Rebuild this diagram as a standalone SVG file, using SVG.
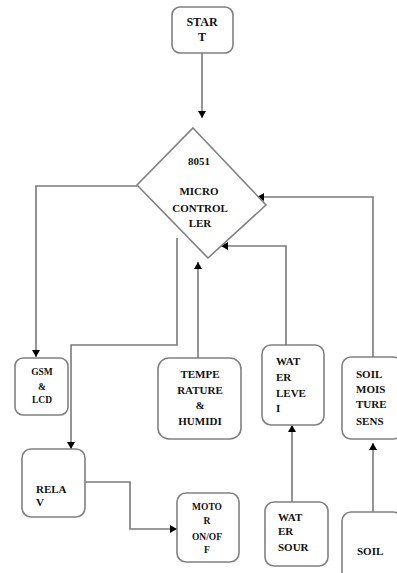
<svg xmlns="http://www.w3.org/2000/svg" width="397" height="573" viewBox="0 0 397 573">
<defs>
<marker id="arr" markerUnits="userSpaceOnUse" markerWidth="8" markerHeight="8" refX="7" refY="4" orient="auto">
<path d="M0,0 L7,4 L0,8 Z" fill="#000"/>
</marker>
<style>
.box{fill:#fff;stroke:#808080;stroke-width:1.6}
.ln{fill:none;stroke:#7a7a7a;stroke-width:1.6;marker-end:url(#arr)}
text{font-family:"Liberation Serif","DejaVu Serif","Times New Roman",serif;font-weight:bold;font-size:11px;fill:#111}
.c{text-anchor:middle}
.s{font-size:9.5px}
</style>
</defs>
<rect width="397" height="573" fill="#fff"/>
<g id="connectors">
<polyline class="ln" points="202,53 202,118"/>
<polyline class="ln" points="137,186 36,186 36,357"/>
<polyline class="ln" points="177,238 177,345 71,345 71,449"/>
<polyline class="ln" points="85,482 130,482 130,529 177,529"/>
<polyline class="ln" points="198,358 198,262"/>
<polyline class="ln" points="286,345 286,246 221,246"/>
<polyline class="ln" points="373,357 373,197 257,197"/>
<polyline class="ln" points="292,502 292,425"/>
<polyline class="ln" points="373,512 373,443"/>
</g>
<g id="start">
<rect class="box" x="172" y="7" width="61" height="46" rx="8"/>
<text class="c" x="202" y="25.5" style="font-size:12px">STAR</text>
<text class="c" x="202" y="41" style="font-size:12px">T</text>
</g>
<g id="controller">
<polygon class="box" points="193,128 266,205 208,258 137,185"/>
<text class="c" x="199" y="165">8051</text>
<text class="c" x="199" y="195">MICRO</text>
<text class="c" x="200" y="212">CONTROL</text>
<text class="c" x="200" y="227">LER</text>
</g>
<g id="gsm">
<rect class="box" x="15" y="358" width="53" height="57" rx="8"/>
<text class="c s" x="42" y="375">GSM</text>
<text class="c s" x="42" y="390">&amp;</text>
<text class="c s" x="42" y="403">LCD</text>
</g>
<g id="relay">
<rect class="box" x="22" y="449" width="63" height="68" rx="9"/>
<text x="36" y="493">RELA</text>
<text x="36" y="506">V</text>
</g>
<g id="motor">
<rect class="box" x="177" y="493" width="62" height="69" rx="9"/>
<text class="c s" x="207" y="510">MOTO</text>
<text class="c s" x="207" y="524">R</text>
<text class="c s" x="207" y="540">ON/OF</text>
<text class="c s" x="207" y="553">F</text>
</g>
<g id="temperature">
<rect class="box" x="158" y="358" width="83" height="81" rx="11"/>
<text class="c" x="200" y="378">TEMPE</text>
<text class="c" x="200" y="394">RATURE</text>
<text class="c" x="200" y="409">&amp;</text>
<text class="c" x="200" y="425">HUMIDI</text>
</g>
<g id="water-level">
<rect class="box" x="262" y="345" width="62" height="80" rx="9"/>
<text x="276" y="365">WAT</text>
<text x="276" y="381">ER</text>
<text x="276" y="397">LEVE</text>
<text x="276" y="412">I</text>
</g>
<g id="soil-moisture">
<rect class="box" x="342" y="357" width="60" height="82" rx="9"/>
<text x="356" y="378">SOIL</text>
<text x="356" y="393">MOIS</text>
<text x="356" y="408">TURE</text>
<text x="356" y="425">SENS</text>
</g>
<g id="water-source">
<rect class="box" x="265" y="502" width="63" height="64" rx="9"/>
<text x="278" y="521">WAT</text>
<text x="278" y="535">ER</text>
<text x="278" y="551">SOUR</text>
</g>
<g id="soil">
<rect class="box" x="342" y="512" width="60" height="70" rx="9"/>
<text x="357" y="555">SOIL</text>
</g>
</svg>
